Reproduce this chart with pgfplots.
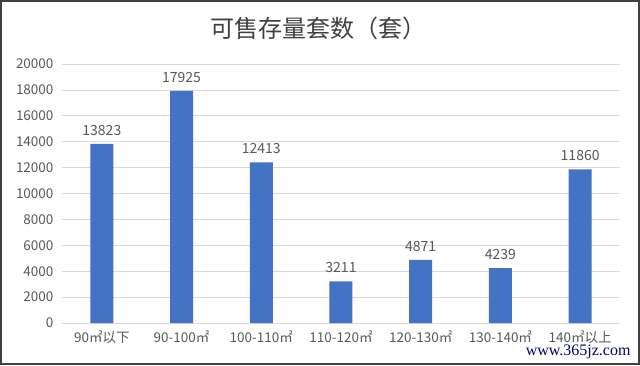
\documentclass[border=0pt]{standalone}
\usepackage{fontspec}
\setmainfont{Noto Sans CJK SC}
\usepackage{pgfplots}
\pgfplotsset{compat=1.18}
\definecolor{barblue}{HTML}{4472C4}
\definecolor{txt}{HTML}{595959}
\definecolor{gridc}{HTML}{D9D9D9}
\begin{document}
\begin{tikzpicture}[x=1pt,y=1pt]
\fill[white] (0,0) rectangle (640,365);
\draw[line width=2pt, color=black!75] (1,1) rectangle (639,364);
\node[font=\fontsize{24}{26}\selectfont, text=black!75] at (318,337) {可售存量套数（套）};
\begin{axis}[
  at={(62pt,42pt)}, anchor=south west,
  scale only axis, width=558pt, height=259pt,
  xmin=-0.5, xmax=6.5, ymin=0, ymax=20000,
  ytick={0,2000,...,20000},
  xtick={0,...,6},
  xticklabels={90㎡以下,90-100㎡,100-110㎡,110-120㎡,120-130㎡,130-140㎡,140㎡以上},
  axis x line*=bottom,
  x axis line style={draw=gridc, line width=1pt, -},
  axis y line*=left,
  y axis line style={draw=none},
  xmajorgrids=false,
  ymajorgrids=true, grid style={draw=gridc, line width=0.8pt},
  major tick length=0pt, tick style={draw=none},
  tick label style={font=\fontsize{13.5}{14}\selectfont, text=txt},
  /pgf/number format/assume math mode=true,
  scaled y ticks=false,
  yticklabel={\pgfmathprintnumber[fixed,1000 sep={}]{\tick}},
  yticklabel style={xshift=-5pt},
  xticklabel style={yshift=-4pt},
  nodes near coords,
  every node near coord/.append style={font=\fontsize{14}{15}\selectfont, text=txt, yshift=5pt,
    /pgf/number format/fixed, /pgf/number format/1000 sep={}},
  ybar, bar width=23pt,
  clip=false,
]
\addplot[fill=barblue, draw=none] coordinates {(0,13823) (1,17925) (2,12413) (3,3211) (4,4871) (5,4239) (6,11860)};
\end{axis}
\node[font=\fontspec{Liberation Serif}\fontsize{16}{18}\selectfont, text=blue!45!black, anchor=south east] at (634,3) {www.365jz.com};
\end{tikzpicture}
\end{document}
